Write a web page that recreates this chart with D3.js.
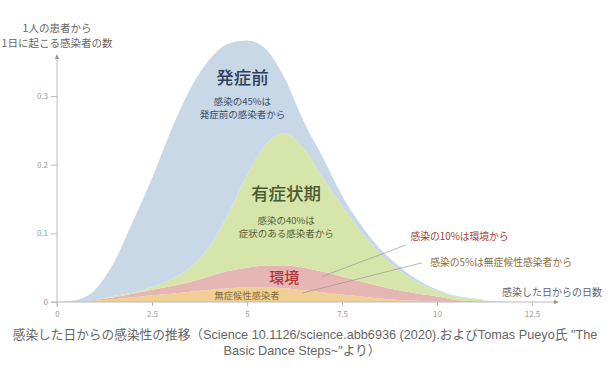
<!DOCTYPE html>
<html lang="ja">
<meta charset="utf-8">
<head>
	<title>感染性の推移</title>
</head>

<style type="text/css">
	body { margin: 0; background: white; }
	svg text { font-family: "Noto Sans CJK JP", "Noto Sans", sans-serif; }
	.tick text { fill: #999; font-size: 8px; }
	.tick line { stroke: #bbb; stroke-width: 1; }
	.axisLine { stroke: #bbb; stroke-width: 1; fill: none; }
	.axisTitle { fill: #666; font-size: 10.5px; }
	.leader { stroke: #999; stroke-width: 0.7; }
	svg text.caption { fill: #666; font-size: 12.7px; font-family: "Liberation Sans", "Noto Sans CJK JP", sans-serif; }
</style>

<script src="https://d3js.org/d3.v7.min.js"></script>

<body>
	<script type="text/javascript">

		// days since infection
		var days = [0, 0.5, 1, 1.5, 2, 2.5, 3, 3.5, 4, 4.5, 5, 5.5, 6, 6.5, 7, 7.5, 8, 8.5, 9, 9.5, 10, 10.5, 11, 11.5, 12];

		// layer values (stacked bottom to top)
		var asymptomatic  = [0, 0.001, 0.002, 0.004, 0.007, 0.010, 0.012, 0.015, 0.018, 0.020, 0.021, 0.021, 0.020, 0.017, 0.014, 0.011, 0.008, 0.005, 0.003, 0.002, 0.001, 0, 0, 0, 0];
		var environment   = [0, 0, 0.001, 0.003, 0.005, 0.008, 0.011, 0.014, 0.019, 0.025, 0.029, 0.032, 0.033, 0.033, 0.030, 0.026, 0.022, 0.018, 0.014, 0.010, 0.007, 0.003, 0.001, 0, 0];
		var symptomatic   = [0, 0, 0, 0.002, 0.002, 0.004, 0.010, 0.021, 0.043, 0.083, 0.135, 0.177, 0.193, 0.172, 0.136, 0.103, 0.072, 0.047, 0.029, 0.016, 0.008, 0.005, 0.003, 0.001, 0];
		var presymptomatic = [0, 0.002, 0.015, 0.049, 0.104, 0.158, 0.217, 0.260, 0.272, 0.248, 0.196, 0.138, 0.079, 0.040, 0.030, 0.015, 0.010, 0.008, 0.006, 0.004, 0.002, 0.001, 0.001, 0, 0];

		var xTicks = [0, 2.5, 5, 7.5, 10, 12.5];
		var yTicks = [0, 0.1, 0.2, 0.3];

		var keys = ["asymptomatic", "environment", "symptomatic", "presymptomatic"];
		var colours = {
			asymptomatic: "rgb(240,208,150)",
			environment: "rgb(229,182,180)",
			symptomatic: "rgb(214,229,169)",
			presymptomatic: "rgb(201,216,231)"
		};

		var width = 615,
			height = 370;

		var table = days.map(function(d, i) {
			return {
				day: d,
				asymptomatic: asymptomatic[i],
				environment: environment[i],
				symptomatic: symptomatic[i],
				presymptomatic: presymptomatic[i]
			};
		});

		var svg = d3.select("body")
					.append("svg")
					.attr("width", width)
					.attr("height", height);

		var x = d3.scaleLinear().domain([0, 12.5]).range([57, 532]);
		var y = d3.scaleLinear().domain([0, 0.3]).range([302, 96]);

		var series = d3.stack().keys(keys)(table);

		var area = d3.area()
					 .x(function(d) { return x(d.data.day); })
					 .y0(function(d) { return y(d[0]); })
					 .y1(function(d) { return y(d[1]); })
					 .curve(d3.curveMonotoneX);

		svg.selectAll(".layer")
		   .data(series)
		   .enter()
		   .append("path")
		   .attr("class", "layer")
		   .attr("fill", function(d) { return colours[d.key]; })
		   .attr("d", area);

		// axes
		var xAxis = svg.append("g")
					   .attr("transform", "translate(0," + y(0) + ")")
					   .call(d3.axisBottom(x).tickValues(xTicks).tickSize(4).tickPadding(5)
					   		.tickFormat(function(d) { return d; }));
		xAxis.select(".domain").remove();

		var yAxis = svg.append("g")
					   .attr("transform", "translate(" + x(0) + ",0)")
					   .call(d3.axisLeft(y).tickValues(yTicks).tickSize(6).tickPadding(3)
					   		.tickFormat(function(d) { return d; }));
		yAxis.select(".domain").remove();

		svg.append("line")
		   .attr("class", "axisLine")
		   .attr("x1", x(0) - 6).attr("x2", 556)
		   .attr("y1", y(0)).attr("y2", y(0));

		svg.append("line")
		   .attr("class", "axisLine")
		   .attr("x1", x(0)).attr("x2", x(0))
		   .attr("y1", y(0) + 5).attr("y2", 57);

		// arrow heads
		svg.append("path")
		   .attr("fill", "#999")
		   .attr("d", "M" + 559 + "," + y(0) + "l-5,-2.2l0,4.4z");
		svg.append("path")
		   .attr("fill", "#999")
		   .attr("d", "M" + x(0) + ",54l-2.2,5l4.4,0z");

		// axis titles
		svg.append("text")
		   .attr("class", "axisTitle")
		   .attr("text-anchor", "middle")
		   .attr("x", x(0))
		   .attr("y", 32)
		   .text("1人の患者から");

		svg.append("text")
		   .attr("class", "axisTitle")
		   .attr("text-anchor", "middle")
		   .attr("x", x(0))
		   .attr("y", 47)
		   .text("1日に起こる感染者の数");

		svg.append("text")
		   .attr("class", "axisTitle")
		   .attr("x", 502)
		   .attr("y", 296)
		   .style("font-size", "10px")
		   .text("感染した日からの日数");

		// area labels
		function label(text, xv, yv, size, colour, weight) {
			svg.append("text")
			   .attr("text-anchor", "middle")
			   .attr("x", x(xv))
			   .attr("y", y(yv))
			   .style("font-size", size + "px")
			   .style("font-weight", weight || 400)
			   .attr("fill", colour)
			   .text(text);
		}

		label("発症前", 4.88, 0.318, 17.5, "#2f3d5c", 500);
		label("感染の45%は", 4.88, 0.287, 9.5, "#3d4a66");
		label("発症前の感染者から", 4.88, 0.268, 9.5, "#3d4a66");

		label("有症状期", 6.03, 0.148, 17.5, "#4b5a30", 500);
		label("感染の40%は", 6.03, 0.114, 9.5, "#55603a");
		label("症状のある感染者から", 6.03, 0.094, 9.5, "#55603a");

		label("環境", 5.98, 0.028, 15, "#b03838", 500);
		label("無症候性感染者", 5.0, 0.005, 9.3, "#8b6a33");

		// leader lines
		svg.append("line")
		   .attr("class", "leader")
		   .attr("x1", x(6.97)).attr("y1", y(0.037))
		   .attr("x2", x(9.18)).attr("y2", y(0.083));
		svg.append("line")
		   .attr("class", "leader")
		   .attr("x1", x(6.45)).attr("y1", y(0.013))
		   .attr("x2", x(9.6)).attr("y2", y(0.057));

		svg.append("text")
		   .attr("x", x(9.3))
		   .attr("y", y(0.09))
		   .style("font-size", "9.8px")
		   .attr("fill", "#a3403d")
		   .text("感染の10%は環境から");

		svg.append("text")
		   .attr("x", x(9.82))
		   .attr("y", y(0.052))
		   .style("font-size", "9.8px")
		   .attr("fill", "#8d6b3c")
		   .text("感染の5%は無症候性感染者から");

		// caption, wrapped over two lines
		var caption = svg.append("text")
						 .attr("class", "caption")
						 .attr("text-anchor", "middle");

		caption.append("tspan")
			   .attr("x", 305)
			   .attr("y", 339)
			   .text("感染した日からの感染性の推移（Science 10.1126/science.abb6936 (2020).およびTomas Pueyo氏 \"The");

		caption.append("tspan")
			   .attr("x", 302)
			   .attr("dy", 16)
			   .text("Basic Dance Steps~\"より）");

	</script>
</body>
</html>
